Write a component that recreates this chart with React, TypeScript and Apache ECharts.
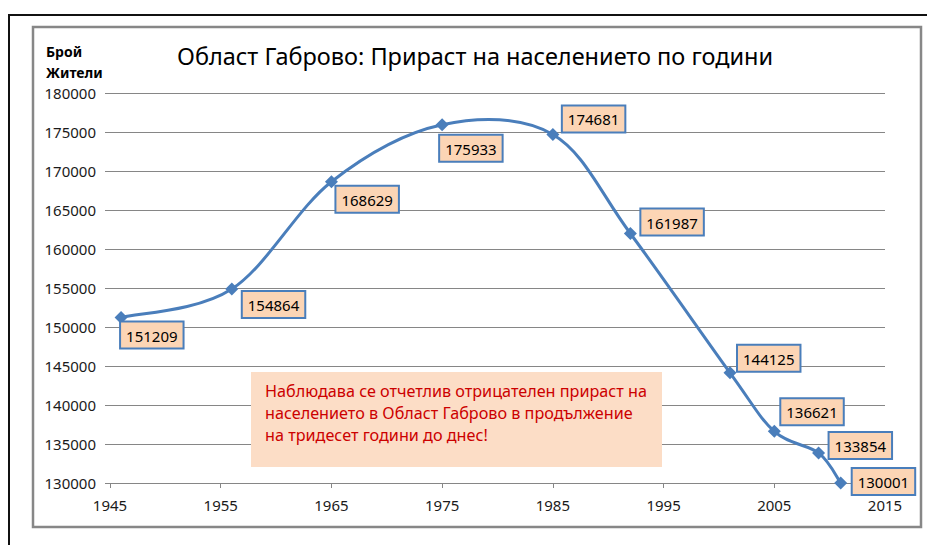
import React, { useEffect, useRef } from "react";
import * as echarts from "echarts";

const years = [1946, 1956, 1965, 1975, 1985, 1992, 2001, 2005, 2009, 2011];
const population = [151209, 154864, 168629, 175933, 174681, 161987, 144125, 136621, 133854, 130001];
// label box offsets (top-left of box relative to the point), in pixels
const labelOffsets = [
  [0, 5], [11, 3], [5, 5], [-2, 11], [10, -28],
  [11, -24], [8, -27], [7, -32], [11, -20], [12, -14],
];
const titleText = "Област Габрово: Прираст на населението по години";
const yAxisTitle = "Брой\nЖители";
const noteLines = [
  "Наблюдава се отчетлив отрицателен прираст на",
  "населението в Област Габрово в продължение",
  "на тридесет години до днес!",
];

const FONT = "'Noto Sans', 'DejaVu Sans', sans-serif";
const BLUE = "#4A7EBB";

export default function App() {
  const ref = useRef<HTMLDivElement>(null);
  useEffect(() => {
    document.body.style.margin = "0";
    if (!ref.current) return;
    const chart = echarts.init(ref.current, null, { renderer: "svg" });
    const sym = 13;
    const n = years.length;
    const pairs = years.map((y, i) => [y, population[i]]);
    const data = pairs.map((v, i) => ({
      value: v,
      label: {
        position: [labelOffsets[i][0] + sym / 2, labelOffsets[i][1] + sym / 2],
      },
    }));
    const renderCurve = (params: any, api: any) => {
      const i = params.dataIndexInside;
      if (i >= n - 1) return null;
      const pt = (j: number) => {
        const k = Math.max(0, Math.min(n - 1, j));
        return api.coord([api.value(0, k), api.value(1, k)]);
      };
      const p0 = pt(i - 1);
      const p1 = pt(i);
      const p2 = pt(i + 1);
      const p3 = pt(i + 2);
      const t = 1 / 6;
      return {
        type: "bezierCurve",
        shape: {
          x1: p1[0],
          y1: p1[1],
          cpx1: p1[0] + (p2[0] - p0[0]) * t,
          cpy1: p1[1] + (p2[1] - p0[1]) * t,
          cpx2: p2[0] - (p3[0] - p1[0]) * t,
          cpy2: p2[1] - (p3[1] - p1[1]) * t,
          x2: p2[0],
          y2: p2[1],
        },
        style: { stroke: BLUE, lineWidth: 3, fill: "none" },
      };
    };
    chart.setOption({
      animation: false,
      backgroundColor: "#ffffff",
      textStyle: { fontFamily: FONT },
      grid: { left: 110, right: 42, top: 93, bottom: 62, containLabel: false },
      xAxis: {
        type: "value",
        min: 1945,
        max: 2015,
        interval: 10,
        splitLine: { show: false },
        axisLine: { show: true, onZero: false, lineStyle: { color: "#868686", width: 1 } },
        axisTick: { show: true, length: 5, lineStyle: { color: "#868686" } },
        axisLabel: {
          color: "#1a1a1a",
          fontSize: 15,
          fontFamily: FONT,
          margin: 14,
          formatter: (v: number) => String(v),
        },
      },
      yAxis: {
        type: "value",
        min: 130000,
        max: 180000,
        interval: 5000,
        splitLine: { show: true, lineStyle: { color: "#868686", width: 1 } },
        axisLine: { show: false },
        axisTick: { show: true, length: 5, lineStyle: { color: "#868686" } },
        axisLabel: {
          color: "#1a1a1a",
          fontSize: 15,
          fontFamily: FONT,
          margin: 14,
          formatter: (v: number) => String(v),
        },
      },
      series: [
        {
          type: "custom",
          data: pairs,
          encode: { x: 0, y: 1 },
          renderItem: renderCurve,
          silent: true,
          z: 2,
        },
        {
          type: "scatter",
          data,
          symbol: "diamond",
          symbolSize: sym,
          itemStyle: { color: BLUE, opacity: 1 },
          label: {
            show: true,
            formatter: (p: any) => String(p.value[1]),
            align: "left",
            verticalAlign: "top",
            color: "#000",
            opacity: 1,
            fontSize: 15,
            fontFamily: FONT,
            lineHeight: 18,
            backgroundColor: "#FCD5B5",
            borderColor: BLUE,
            borderWidth: 2,
            padding: [4, 5, 3, 5],
          },
          z: 3,
        },
      ],
      graphic: [
        {
          type: "rect",
          shape: { x: 9, y: 15, width: 940, height: 560 },
          style: { fill: "none", stroke: "#111", lineWidth: 2 },
          silent: true,
          z: -10,
        },
        {
          type: "rect",
          shape: { x: 33, y: 27, width: 888, height: 500 },
          style: { fill: "none", stroke: "#878787", lineWidth: 2.5 },
          silent: true,
          z: -10,
        },
        {
          type: "text",
          x: 177,
          y: 44,
          style: {
            text: titleText,
            fill: "#000",
            fontSize: 23.5,
            fontFamily: FONT,
            textVerticalAlign: "top",
          },
        },
        {
          type: "text",
          x: 46,
          y: 41,
          style: {
            text: yAxisTitle,
            fill: "#000",
            fontSize: 14,
            fontWeight: "bold",
            fontFamily: FONT,
            lineHeight: 21,
            textVerticalAlign: "top",
          },
        },
        {
          type: "rect",
          shape: { x: 251, y: 372, width: 411, height: 95 },
          style: { fill: "#FCDDC6", stroke: "none" },
          z: 1,
        },
        {
          type: "text",
          x: 265,
          y: 380,
          z: 2,
          style: {
            text: noteLines.join("\n"),
            fill: "#CC0000",
            fontSize: 16.2,
            lineHeight: 22,
            fontFamily: FONT,
            textVerticalAlign: "top",
          },
        },
      ],
    });
    return () => chart.dispose();
  }, []);
  return <div ref={ref} style={{ width: 927, height: 545 }} />;
}
